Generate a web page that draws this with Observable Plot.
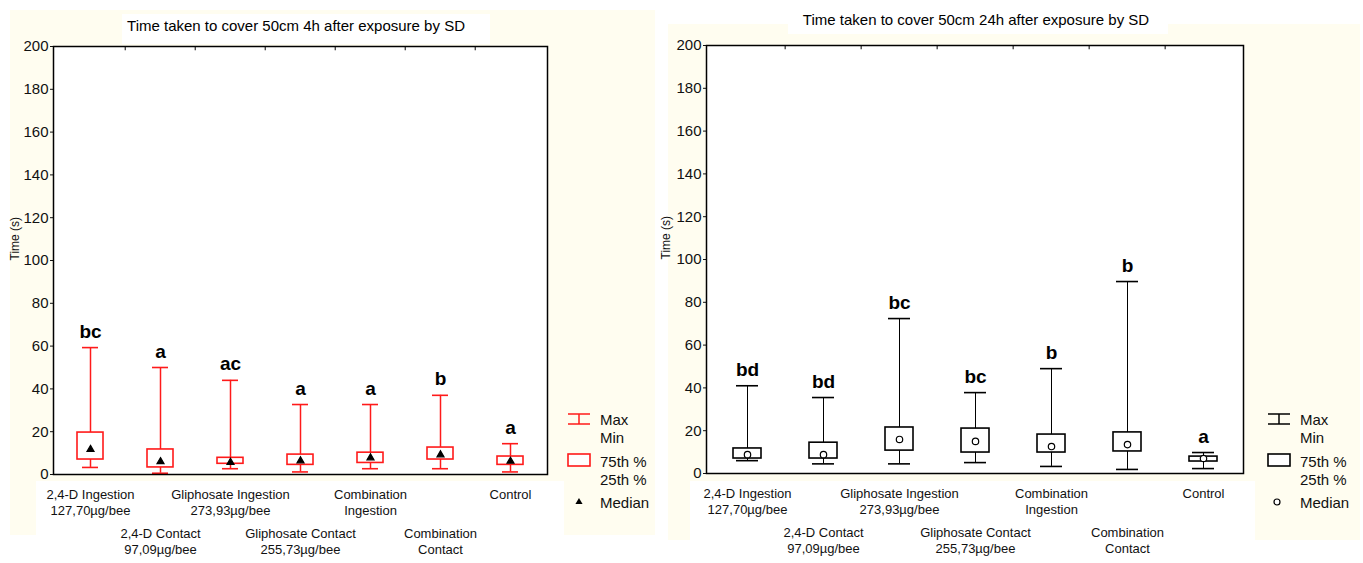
<!DOCTYPE html>
<html><head><meta charset="utf-8">
<script src="https://cdn.jsdelivr.net/npm/d3@7"></script>
<script src="https://cdn.jsdelivr.net/npm/@observablehq/plot@0.6"></script>
<style>
body{margin:0;width:1363px;height:563px;position:relative;background:#fff;overflow:hidden;font-family:"Liberation Sans",Arial,sans-serif;}
.bg{position:absolute;background:#fffdf0;}
.wh{position:absolute;background:#fff;}
.panel{position:absolute;top:0;}
.title{position:absolute;font-size:15px;color:#000;white-space:nowrap;transform:translate(-50%,-50%);}
#legend{position:absolute;left:0;top:0;pointer-events:none;}
</style></head><body>
<div class="bg" style="left:10px;top:10px;width:645px;height:525px"></div>
<div class="wh" style="left:122px;top:14px;width:368px;height:30px"></div>
<div class="wh" style="left:36px;top:481px;width:528px;height:82px"></div>
<div class="bg" style="left:668px;top:24px;width:692px;height:516px"></div>
<div class="wh" style="left:788px;top:6px;width:380px;height:28px"></div>
<div class="wh" style="left:690px;top:481px;width:565px;height:82px"></div>
<div class="title" style="left:296px;top:25px">Time taken to cover 50cm 4h after exposure by SD</div>
<div class="title" style="left:976px;top:19px">Time taken to cover 50cm 24h after exposure by SD</div>
<div id="p1" class="panel" style="left:0px"></div>
<div id="p2" class="panel" style="left:660px"></div>
<svg id="legend" width="1363" height="563"></svg>
<script>
// ---- data ----
const categories = [
  "2,4-D Ingestion\n127,70µg/bee",
  "2,4-D Contact\n97,09µg/bee",
  "Gliphosate Ingestion\n273,93µg/bee",
  "Gliphosate Contact\n255,73µg/bee",
  "Combination\nIngestion",
  "Combination\nContact",
  "Control"
];
const yTicks = [0,20,40,60,80,100,120,140,160,180,200];

const letters4h = ["bc","a","ac","a","a","b","a"];
const min4h     = [3.3, 0.6, 2.7, 1.2, 2.7, 2.7, 1.2];
const q1_4h     = [7.0, 3.3, 5.0, 4.5, 5.4, 7.0, 4.5];
const median4h  = [11.7, 6.0, 5.7, 6.4, 7.8, 9.2, 6.2];
const q3_4h     = [19.6, 11.7, 7.8, 9.3, 10.2, 12.6, 8.4];
const max4h     = [59.3, 50.0, 44.0, 32.7, 32.7, 37.0, 14.4];

const letters24h = ["bd","bd","bc","bc","b","b","a"];
const min24h     = [6.0, 4.5, 4.5, 5.1, 3.3, 1.9, 2.3];
const q1_24h     = [7.0, 7.0, 10.7, 9.8, 9.8, 10.3, 5.6];
const median24h  = [8.8, 8.8, 15.9, 15.0, 12.6, 13.5, 7.0];
const q3_24h     = [11.7, 14.4, 21.5, 21.0, 18.2, 19.2, 7.9];
const max24h     = [41.0, 35.5, 72.4, 37.8, 49.0, 89.7, 9.8];

const legendLabels = ["Max\nMin", "75th %\n25th %", "Median"];

function panel(cfg) {
  const rows = categories.map((c, i) => ({
    c, i, min: cfg.min[i], q1: cfg.q1[i], med: cfg.med[i], q3: cfg.q3[i], max: cfg.max[i], letter: cfg.letters[i]
  }));
  const frameW = cfg.width - cfg.ml - cfg.mr;
  const step = frameW / categories.length;
  return Plot.plot({
    width: cfg.width, height: 563,
    marginLeft: cfg.ml, marginRight: cfg.mr, marginTop: cfg.mt, marginBottom: cfg.mb,
    style: {background: "transparent", fontFamily: '"Liberation Sans",Arial,sans-serif', color: "#111", overflow: "visible"},
    x: {domain: categories, padding: 0, axis: null},
    y: {domain: [0, 200], axis: null},
    marks: [
      Plot.frame({fill: "white"}),
      Plot.axisY({ticks: yTicks, tickSize: 3, tickPadding: 2, fontSize: 15, label: null}),
      Plot.text(["Time (s)"], {frameAnchor: "left", rotate: -90, dx: cfg.labelDx, fontSize: 12, fill: "#111"}),
      Plot.ruleX(categories.slice(1), {x: d => d, y1: 200, y2: 198, dx: -step / 2, stroke: "#000"}),
      Plot.ruleX(rows, {x: "c", y1: "min", y2: "max", stroke: cfg.color, strokeWidth: cfg.whiskerW}),
      Plot.barY(rows, {x: "c", y1: "q1", y2: "q3", fill: "white", stroke: cfg.color, strokeWidth: 1.6, insetLeft: cfg.boxInset, insetRight: cfg.boxInset}),
      Plot.tickY(rows, {x: "c", y: "max", stroke: cfg.color, strokeWidth: 1.6, insetLeft: cfg.capInset, insetRight: cfg.capInset}),
      Plot.tickY(rows, {x: "c", y: "min", stroke: cfg.color, strokeWidth: 1.6, insetLeft: cfg.capInset, insetRight: cfg.capInset}),
      Plot.dot(rows, {x: "c", y: "med", symbol: cfg.symbol, r: cfg.r, fill: cfg.medFill, stroke: cfg.medStroke, strokeWidth: 1.2}),
      Plot.text(rows, {x: "c", y: "max", text: "letter", dy: -16, fontWeight: "bold", fontSize: 19, fill: "#000"}),
      Plot.text(rows.filter(d => d.i % 2 === 0), {x: "c", text: "c", frameAnchor: "bottom", lineAnchor: "top", dy: 12, fontSize: 13, lineHeight: 1.3, fill: "#111"}),
      Plot.text(rows.filter(d => d.i % 2 === 1), {x: "c", text: "c", frameAnchor: "bottom", lineAnchor: "top", dy: 51, fontSize: 13, lineHeight: 1.3, fill: "#111"}),
      Plot.frame({stroke: "#000", strokeWidth: 1.5})
    ]
  });
}

document.getElementById("p1").append(panel({
  width: 660, ml: 53, mr: 113, mt: 46, mb: 89, labelDx: -38,
  min: min4h, q1: q1_4h, med: median4h, q3: q3_4h, max: max4h, letters: letters4h,
  color: "#ff1a1a", whiskerW: 1.5, boxInset: 22, capInset: 27,
  symbol: "triangle", r: 2.6, medFill: "#000", medStroke: "#000"
}));
document.getElementById("p2").append(panel({
  width: 703, ml: 46, mr: 120, mt: 45, mb: 90, labelDx: -40,
  min: min24h, q1: q1_24h, med: median24h, q3: q3_24h, max: max24h, letters: letters24h,
  color: "#000", whiskerW: 1, boxInset: 24, capInset: 27,
  symbol: "circle", r: 3.2, medFill: "#fff", medStroke: "#000"
}));

// ---- legends ----
const svg = d3.select("#legend");
function legend(x0, color, medianSym) {
  const g = svg.append("g").attr("transform", `translate(${x0},0)`);
  const stroke = color;
  g.append("line").attr("x1", 0).attr("x2", 22).attr("y1", 414).attr("y2", 414).attr("stroke", stroke).attr("stroke-width", 1.5);
  g.append("line").attr("x1", 0).attr("x2", 22).attr("y1", 424).attr("y2", 424).attr("stroke", stroke).attr("stroke-width", 1.5);
  g.append("line").attr("x1", 11).attr("x2", 11).attr("y1", 414).attr("y2", 424).attr("stroke", stroke).attr("stroke-width", 1.5);
  g.append("rect").attr("x", 0).attr("y", 454).attr("width", 22).attr("height", 12).attr("fill", "white").attr("stroke", stroke).attr("stroke-width", 1.6);
  if (medianSym === "triangle") {
    g.append("path").attr("d", d3.symbol(d3.symbolTriangle, 22)()).attr("transform", "translate(11,502)").attr("fill", "#000");
  } else {
    g.append("circle").attr("cx", 9).attr("cy", 502).attr("r", 3).attr("fill", "#fff").attr("stroke", "#000").attr("stroke-width", 1.2);
  }
  const texts = [[legendLabels[0], 420], [legendLabels[1], 462], [legendLabels[2], 503]];
  texts.forEach(([t, y]) => {
    t.split("\n").forEach((line, k) => {
      g.append("text").attr("x", 32).attr("y", y + k * 18).attr("dy", "0.35em")
        .attr("font-family", '"Liberation Sans",Arial,sans-serif').attr("font-size", 15).attr("fill", "#111").text(line);
    });
  });
}
legend(568, "#ff1a1a", "triangle");
legend(1268, "#000", "circle");
</script>
</body></html>
